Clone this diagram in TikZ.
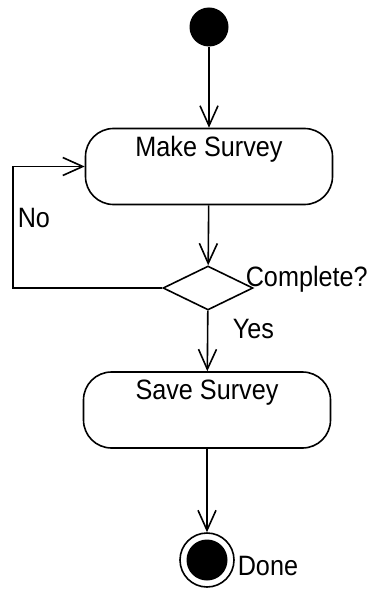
\documentclass[tikz,border=0pt]{standalone}
\usepackage{fontspec}
\setmainfont{Liberation Sans}[FakeStretch=0.9]
\usetikzlibrary{arrows.meta,shapes.geometric,positioning}

\begin{document}
\begin{tikzpicture}[x=1pt,y=-1pt,line width=1.6pt,
	>={Straight Barb[length=20pt,width=18pt]},
	every node/.style={font=\fontsize{28}{30}\selectfont},
	activity/.style={draw,rounded corners=28pt,minimum width=247pt,inner xsep=0pt,
		inner ysep=7.5pt,text height=20pt,text depth=41pt},
	decision/.style={diamond,draw,inner sep=0pt,minimum width=90pt,minimum height=44pt},
	lbl/.style={anchor=base west,inner sep=0pt}
	]
	\useasboundingbox (0,0) rectangle (369,591);

	\node[circle,fill=black,inner sep=0pt,minimum size=39pt] (start) at (209,27) {};
	\node[activity] (make) at (209,166.5) {Make Survey};
	\node[decision] (dec) at (208,288) {};
	\node[activity] (save) at (207,410) {Save Survey};
	\node[circle,draw,inner sep=0pt,minimum size=54pt] (done) at (207,560) {};
	\node[circle,fill=black,inner sep=0pt,minimum size=41pt] (donedot) at (done) {};

	\draw[->] (start) -- (make);
	\draw[->] (make) -- (dec);
	\draw[->] (dec) -- (save);
	\draw[->] (save) -- (done);

	% loop back
	\coordinate (bend) at (13,288);
	\draw[->] (dec.west) -- (bend) |- (make.west);

	% labels
	\node[lbl] (no) at (17,227) {No};
	\node[lbl] (complete) at (245,286) {Complete?};
	\node[lbl] (yes) at (232,338) {Yes};
	\node[lbl] (donelbl) at (237,575) {Done};

\end{tikzpicture}
\end{document}
